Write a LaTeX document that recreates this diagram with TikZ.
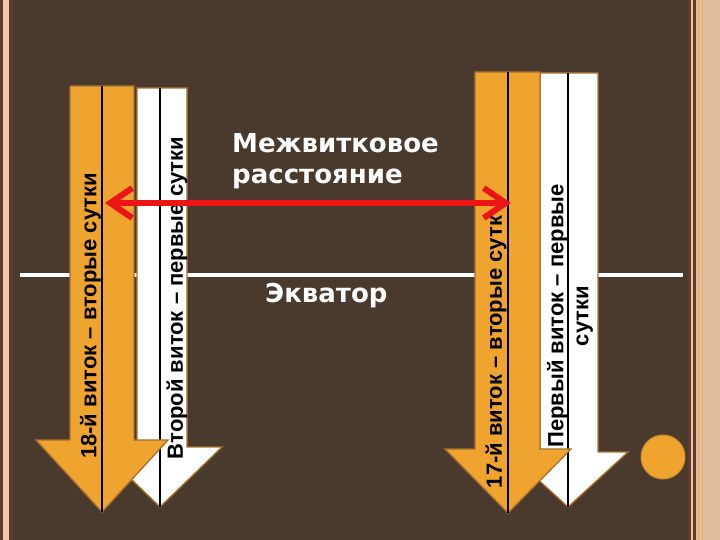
\documentclass[tikz,border=0pt]{standalone}
\usepackage{fontspec}
\setmainfont{Liberation Sans}
\newfontfamily\armfont{Liberation Sans Bold}
\newfontfamily\widebold{DejaVu Sans Bold}
\usetikzlibrary{arrows.meta}
\definecolor{bg}{RGB}{74,58,46}
\definecolor{peach}{RGB}{240,200,168}
\definecolor{peachR}{RGB}{226,190,160}
\definecolor{edgebrown}{RGB}{92,60,42}
\definecolor{arrorange}{RGB}{240,164,48}
\definecolor{arredge}{RGB}{168,112,44}
\definecolor{redarr}{RGB}{236,20,20}
\begin{document}
\begin{tikzpicture}[x=1bp,y=-1bp,
  blockarrow/.style={line width=1.3bp, draw=arredge, line join=miter},
  orangearrow/.style={blockarrow, fill=arrorange},
  whitearrow/.style={blockarrow, fill=white},
  axisline/.style={black, line width=2.5bp},
  armlabel/.style={rotate=90, font=\armfont\fontsize{22bp}{25bp}\selectfont, text=black, inner sep=0pt, align=center},
  centerlabel/.style={font=\widebold\fontsize{26bp}{31bp}\selectfont, text=white, inner sep=0pt, align=left},
  redconn/.style={redarr, line width=6bp, {Straight Barb[length=22bp,width=30bp]}-{Straight Barb[length=22bp,width=30bp]}}
]
\useasboundingbox (0,0) rectangle (720,540);
\fill[bg] (0,0) rectangle (720,540);
% left border
\fill[edgebrown] (0,0) rectangle (3,540);
\fill[peach] (3,0) rectangle (9,540);
\fill[edgebrown] (9,0) rectangle (13,540);
% right border
\fill[edgebrown] (688,0) rectangle (691,540);
\fill[peach] (691,0) rectangle (693,540);
\fill[edgebrown] (693,0) rectangle (696,540);
\fill[peachR] (696,0) rectangle (720,540);
\fill[arrorange!70!peachR] (697.5,0) rectangle (699,540);
\fill[arrorange!55!peachR] (701.5,0) rectangle (703,540);

% equator
\coordinate (eqL) at (20,275);
\coordinate (eqR) at (683,275);
\draw[white, line width=4bp] (eqL) -- (eqR);

% left pair
\draw[whitearrow] (137,88) -- (187,88) -- (187,447) -- (222,447) -- (160,507) -- (98,447) -- (137,447) -- cycle;
\draw[axisline] (160,88) -- (160,507);
\draw[orangearrow] (70,86) -- (134,86) -- (134,440) -- (168,440) -- (102,512) -- (36,440) -- (70,440) -- cycle;
\draw[axisline] (102,86) -- (102,512);

% right pair
\draw[whitearrow] (540,73) -- (598,73) -- (598,452) -- (628,452) -- (568,507) -- (508,452) -- (540,452) -- cycle;
\draw[axisline] (568,73) -- (568,507);
\draw[orangearrow] (475,72) -- (540,72) -- (540,449) -- (571,449) -- (508,513) -- (445,449) -- (475,449) -- cycle;
\draw[axisline] (508,72) -- (508,513);

% arm labels
\node[armlabel] (t18) at (90.5,316) {18-й виток – вторые сутки};
\node[armlabel] (t2) at (177,298) {Второй виток – первые сутки};
\node[armlabel] (t17) at (496,352) {17-й виток – вторые сутк};
\node[armlabel] (t1) at (570,316) {Первый виток – первые\\сутки};

% center labels
\node[centerlabel, anchor=north west] (dist) at (232,133) {Межвитковое\\расстояние};
\node[centerlabel, anchor=north west] (eq) at (265,283) {Экватор};

% distance arrow
\coordinate (rL) at (105,203);
\coordinate (rR) at (511,203);
\draw[redconn] (rL) -- (rR);

% dot
\node[circle, fill=arrorange, draw=arredge!50!arrorange, line width=1bp, minimum size=44bp, inner sep=0pt] (dot) at (663,457) {};
\end{tikzpicture}
\end{document}
